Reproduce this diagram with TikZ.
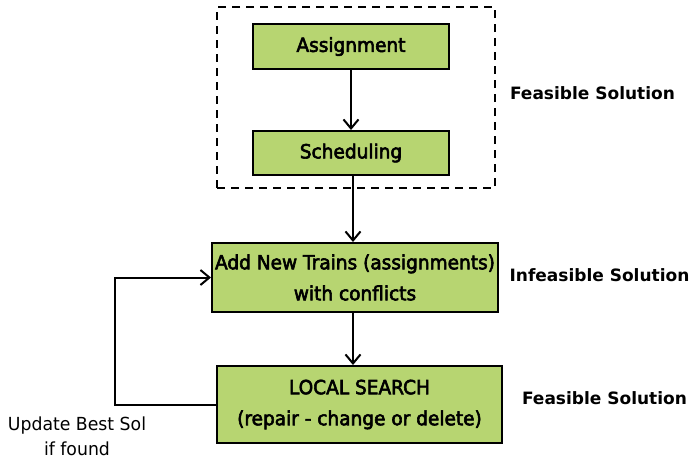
\documentclass[tikz,border=0pt]{standalone}
\usepackage{fontspec}
\setmainfont{DejaVu Sans}
\newfontfamily\boxfont[FakeStretch=0.95,FakeBold=3]{DejaVu Sans}
\newfontfamily\notefont[FakeStretch=0.96]{DejaVu Sans}
\usetikzlibrary{arrows.meta}
\definecolor{boxgreen}{RGB}{183,213,113}
\begin{document}
\begin{tikzpicture}[x=1pt,y=-1pt,line width=2pt,
        stepbox/.style={draw,fill=boxgreen,align=center,inner sep=0pt,
            font=\boxfont\fontsize{19.5}{31}\selectfont},
        sidelabel/.style={font=\fontsize{17}{20}\selectfont\bfseries},
        flow/.style={-{Straight Barb[length=9pt,width=15pt]}}]
    \useasboundingbox (0,0) rectangle (691,459);
    % dashed frame round the first two steps
    \node[draw,dashed,dash pattern=on 8pt off 6pt,minimum width=278pt,minimum height=181pt] (frame) at (356,97.5) {};
    \node[stepbox,minimum width=196pt,minimum height=45pt] (assign) at (351,46.5) {Assignment};
    \node[stepbox,minimum width=196pt,minimum height=44pt] (sched) at (351,153) {Scheduling};
    \node[stepbox,minimum width=286pt,minimum height=69pt] (addtr) at (355,277.5) {Add New Trains (assignments)\\with conflicts};
    \node[stepbox,minimum width=285pt,minimum height=77pt] (local) at (359.5,404.5) {LOCAL SEARCH\\(repair - change or delete)};
    \node[sidelabel] (feasa) at (592.5,93) {Feasible Solution};
    \node[sidelabel] (infeas) at (599.5,275) {Infeasible Solution};
    \node[sidelabel] (feasb) at (604.5,398) {Feasible Solution};
    \node[align=center,font=\notefont\fontsize{18}{25}\selectfont] (update) at (77,436) {Update Best Sol\\if found};
    \draw[flow] (assign) -- (sched);
    \draw[flow] (sched.south -| 353,0) -- (addtr.north -| 353,0);
    \draw[flow] (addtr.south -| 353,0) -- (local.north -| 353,0);
    \draw[flow] (local.west) -- ++(-101,0) |- (addtr.west);
\end{tikzpicture}
\end{document}
